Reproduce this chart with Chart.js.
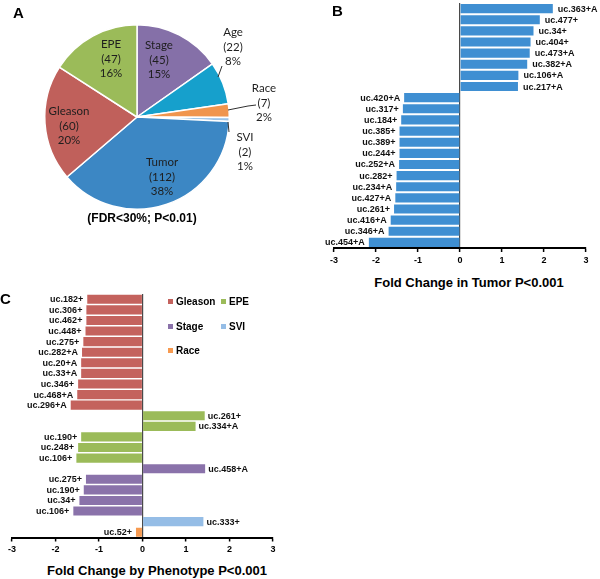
<!DOCTYPE html>
<html>
<head>
<meta charset="utf-8">
<script src="https://cdn.jsdelivr.net/npm/chart.js@4/dist/chart.umd.min.js"></script>
<style>
html,body{margin:0;padding:0;background:#fff;}
#wrap{position:relative;width:600px;height:579px;overflow:hidden;font-family:"Liberation Sans",Arial,sans-serif;color:#000;}
canvas{position:absolute;}
.txt{position:absolute;white-space:nowrap;line-height:1;font-weight:bold;}
.panel{font-size:15px;}
.atitle{font-size:13px;transform:translateX(-50%);}
.fdr{font-size:12px;transform:translateX(-50%);}
.leg{position:absolute;font-size:10px;font-weight:bold;line-height:1;white-space:nowrap;}
.leg i{display:inline-block;width:5px;height:5px;margin-right:3px;vertical-align:1px;}
</style>
</head>
<body>
<div id="wrap">
  <canvas id="pie" width="300" height="240" style="left:0;top:0"></canvas>
  <canvas id="tumor" width="300" height="270" style="left:300px;top:0"></canvas>
  <canvas id="pheno" width="300" height="280" style="left:0;top:280px"></canvas>
  <div class="txt panel" style="left:13px;top:5px">A</div>
  <div class="txt panel" style="left:332px;top:3px">B</div>
  <div class="txt panel" style="left:0px;top:291px">C</div>
  <div class="txt fdr" style="left:142px;top:212px">(FDR&lt;30%; P&lt;0.01)</div>
  <div class="txt atitle" style="left:469px;top:276px">Fold Change in Tumor P&lt;0.001</div>
  <div class="txt atitle" style="left:157px;top:564px">Fold Change by Phenotype P&lt;0.001</div>
  <div id="legend"></div>
</div>
<script>
// ---------- DATA ----------
const pieCategories = ['Stage', 'Age', 'Race', 'SVI', 'Tumor', 'Gleason', 'EPE'];
const pieCounts = [45, 22, 7, 2, 112, 60, 47];
const piePercents = [15, 8, 2, 1, 38, 20, 16];

const tumorLabels = ['uc.363+A', 'uc.477+', 'uc.34+', 'uc.404+', 'uc.473+A', 'uc.382+A', 'uc.106+A', 'uc.217+A',
  'uc.420+A', 'uc.317+', 'uc.184+', 'uc.385+', 'uc.389+', 'uc.244+', 'uc.252+A', 'uc.282+', 'uc.234+A',
  'uc.427+A', 'uc.261+', 'uc.416+A', 'uc.346+A', 'uc.454+A'];
const tumorFold = [2.21, 1.90, 1.75, 1.68, 1.66, 1.60, 1.39, 1.38,
  -1.33, -1.36, -1.40, -1.44, -1.44, -1.44, -1.45, -1.51, -1.52,
  -1.54, -1.57, -1.65, -1.70, -2.17];

const phenotypeNames = ['Gleason', 'EPE', 'Stage', 'SVI', 'Race'];
const gleasonLabels = ['uc.182+', 'uc.306+', 'uc.462+', 'uc.448+', 'uc.275+', 'uc.282+A', 'uc.20+A', 'uc.33+A', 'uc.346+', 'uc.468+A', 'uc.296+A'];
const gleasonFold = [-1.27, -1.29, -1.29, -1.31, -1.36, -1.39, -1.41, -1.41, -1.48, -1.50, -1.65];
const epeLabels = ['uc.261+', 'uc.334+A', 'uc.190+', 'uc.248+', 'uc.106+'];
const epeFold = [1.43, 1.22, -1.41, -1.48, -1.52];
const stageLabels = ['uc.458+A', 'uc.275+', 'uc.190+', 'uc.34+', 'uc.106+'];
const stageFold = [1.44, -1.30, -1.35, -1.45, -1.59];
const sviLabels = ['uc.333+'];
const sviFold = [1.40];
const raceLabels = ['uc.52+'];
const raceFold = [-0.15];

const foldTicks = [-3, -2, -1, 0, 1, 2, 3];

// ---------- STYLE ----------
const FONT = '"Liberation Sans", Arial, sans-serif';
const pieColors = ['#8570a8', '#16a0cc', '#f0954d', '#9cc3e6', '#3c87c4', '#c0605b', '#9bbb59'];
const phenoColors = ['#c4625d', '#9bbb59', '#8a72aa', '#95bde6', '#f79a50'];
const tumorColor = '#3f8fd2';
// label offsets (px from pie centre) and leader lines
const pieLabelOffsets = [[22, -57], [96, -70], [127, -14], [108, 35], [25, 60], [-68, 9], [-26, -58]];
const pieLeaders = [[[81, -40], [85, -51]], [[91, -7], [111, -11], [119, -12]], [[91, 5], [92, 15]]];

Chart.defaults.font.family = FONT;

const pieLabelPlugin = {
  id: 'pieLabels',
  afterDatasetsDraw(chart) {
    const ctx = chart.ctx;
    const a = chart.getDatasetMeta(0).data[0];
    const cx = a.x, cy = a.y;
    ctx.save();
    ctx.font = '11.5px Lato, "Open Sans", sans-serif';
    ctx.fillStyle = '#1e1e1e';
    ctx.textAlign = 'center';
    ctx.textBaseline = 'middle';
    chart.data.labels.forEach((name, i) => {
      const [dx, dy] = pieLabelOffsets[i];
      const lines = [name, '(' + chart.data.datasets[0].data[i] + ')', piePercents[i] + '%'];
      lines.forEach((t, k) => ctx.fillText(t, cx + dx, cy + dy + (k - 1) * 14.5));
    });
    ctx.strokeStyle = '#303030';
    ctx.lineWidth = 1;
    pieLeaders.forEach(pts => {
      ctx.beginPath();
      pts.forEach(([x, y], j) => j ? ctx.lineTo(cx + x, cy + y) : ctx.moveTo(cx + x, cy + y));
      ctx.stroke();
    });
    ctx.restore();
  }
};

new Chart(document.getElementById('pie'), {
  type: 'pie',
  data: {
    labels: pieCategories,
    datasets: [{ data: pieCounts, backgroundColor: pieColors, borderColor: '#fff', borderWidth: 1.5 }]
  },
  options: {
    responsive: false, animation: false,
    layout: { padding: { left: 44, top: 24, right: 70, bottom: 30 } },
    plugins: { legend: { display: false }, tooltip: { enabled: false } }
  },
  plugins: [pieLabelPlugin]
});

const barLabelPlugin = {
  id: 'barLabels',
  afterDatasetsDraw(chart, args, opts) {
    const ctx = chart.ctx;
    ctx.save();
    ctx.font = 'bold 9px ' + FONT;
    ctx.fillStyle = '#111';
    ctx.textBaseline = 'middle';
    chart.data.datasets.forEach((ds, di) => {
      const meta = chart.getDatasetMeta(di);
      meta.data.forEach((bar, i) => {
        const v = ds.data[i];
        if (v === null || v === undefined) return;
        const label = chart.data.labels[i];
        if (v >= 0) { ctx.textAlign = 'left'; ctx.fillText(label, bar.x + opts.gapPos, bar.y + 0.5); }
        else { ctx.textAlign = 'right'; ctx.fillText(label, bar.x - opts.gapNeg, bar.y + 0.5); }
      });
    });
    ctx.restore();
  }
};

function barOptions(padding, axisHeight, gapPos, gapNeg) {
  return {
    indexAxis: 'y', responsive: false, animation: false,
    layout: { padding },
    plugins: { legend: { display: false }, tooltip: { enabled: false }, barLabels: { gapPos, gapNeg } },
    scales: {
      x: {
        type: 'linear', min: foldTicks[0], max: foldTicks[foldTicks.length - 1],
        afterBuildTicks: s => { s.ticks = foldTicks.map(v => ({ value: v })); },
        ticks: { color: '#000', font: { size: 9, weight: 'bold' }, padding: 3, maxRotation: 0 },
        grid: {
          color: c => (c.tick && c.tick.value === 0) ? '#4a4a4a' : 'rgba(0,0,0,0)',
          tickColor: '#000', tickLength: 4, lineWidth: 1.2, tickWidth: 1.5
        },
        border: { color: '#000', width: 2 },
        afterFit: s => { s.height = axisHeight; }
      },
      y: { type: 'category', display: false, grid: { display: false } }
    }
  };
}

new Chart(document.getElementById('tumor'), {
  type: 'bar',
  data: {
    labels: tumorLabels,
    datasets: [{ data: tumorFold, backgroundColor: tumorColor, borderWidth: 0, barPercentage: 0.82, categoryPercentage: 1 }]
  },
  options: barOptions({ left: 34, right: 14, top: 3, bottom: 0 }, 22, 5, 4),
  plugins: [barLabelPlugin]
});

const groups = [
  { labels: gleasonLabels, values: gleasonFold },
  { labels: epeLabels, values: epeFold },
  { labels: stageLabels, values: stageFold },
  { labels: sviLabels, values: sviFold },
  { labels: raceLabels, values: raceFold }
];
const rowLabels = groups.flatMap(g => g.labels);
let offset = 0;
const phenoDatasets = groups.map((g, gi) => {
  const data = new Array(rowLabels.length).fill(null);
  g.values.forEach((v, i) => { data[offset + i] = v; });
  offset += g.values.length;
  return {
    label: phenotypeNames[gi], data, backgroundColor: phenoColors[gi], borderWidth: 0,
    grouped: false, barPercentage: 0.86, categoryPercentage: 1
  };
});

new Chart(document.getElementById('pheno'), {
  type: 'bar',
  data: { labels: rowLabels, datasets: phenoDatasets },
  options: barOptions({ left: 12, right: 27, top: 14, bottom: 0 }, 22.5, 3, 4),
  plugins: [barLabelPlugin]
});

// HTML legend for panel C
const legendPos = [[168, 297], [221, 297], [168, 321.5], [221, 321.5], [168, 346]];
const legend = document.getElementById('legend');
phenotypeNames.forEach((n, i) => {
  const d = document.createElement('div');
  d.className = 'leg';
  d.style.left = legendPos[i][0] + 'px';
  d.style.top = legendPos[i][1] + 'px';
  d.innerHTML = '<i style="background:' + phenoColors[i] + '"></i>' + n;
  legend.appendChild(d);
});
</script>
</body>
</html>
